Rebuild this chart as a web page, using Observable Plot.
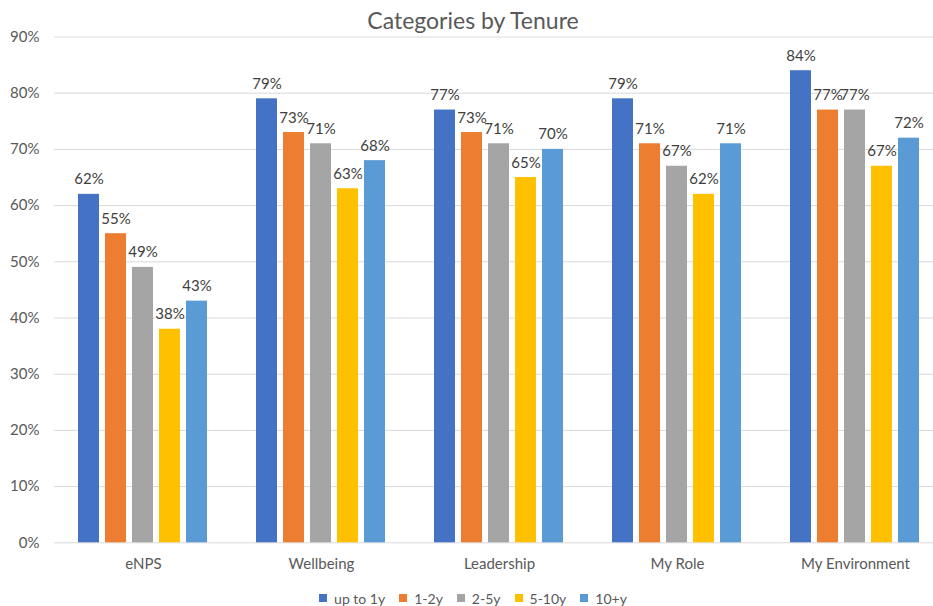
<!DOCTYPE html>
<html>
<head>
<meta charset="utf-8">
<script src="https://cdn.jsdelivr.net/npm/d3@7"></script>
<script src="https://cdn.jsdelivr.net/npm/@observablehq/plot@0.6"></script>
<style>
  body { margin: 0; background: #fff; overflow: hidden; font-family: Lato, sans-serif; }
  #title { width: 933px; height: 30px; box-sizing: border-box; padding-top: 9px; padding-left: 13px;
           font-size: 23px; line-height: 23px; color: #595959; text-align: center; white-space: nowrap; }
  #legend { width: 933px; box-sizing: border-box; padding-left: 27px; }
</style>
</head>
<body>
<div id="title">Categories by Tenure</div>
<div id="chart"></div>
<div id="legend"></div>
<script>
const categories = ["eNPS", "Wellbeing", "Leadership", "My Role", "My Environment"];
const series = ["up to 1y", "1-2y", "2-5y", "5-10y", "10+y"];
const colors = ["#4472C4", "#ED7D31", "#A5A5A5", "#FFC000", "#5B9BD5"];
const upTo1y  = [62, 79, 77, 79, 84];
const y1to2   = [55, 73, 73, 71, 77];
const y2to5   = [49, 71, 71, 67, 77];
const y5to10  = [38, 63, 65, 62, 67];
const y10plus = [43, 68, 70, 71, 72];
const yTicks = [0, 10, 20, 30, 40, 50, 60, 70, 80, 90];

const seriesValues = [upTo1y, y1to2, y2to5, y5to10, y10plus];
const data = [];
categories.forEach((c, i) => {
  series.forEach((s, j) => data.push({category: c, series: s, value: seriesValues[j][i]}));
});

const chart = Plot.plot({
  width: 933,
  height: 555,
  marginTop: 6.5,
  marginBottom: 42.7,
  marginLeft: 53,
  marginRight: 0,
  style: {fontFamily: "Lato, sans-serif", fontSize: "15px", color: "#595959", background: "white", overflow: "visible"},
  fx: {domain: categories, range: [53.2, 944.4], padding: 0, label: null, axis: "bottom", tickSize: 0, tickPadding: 16},
  x: {domain: series, axis: null, paddingInner: 0.214, paddingOuter: 0.836},
  y: {domain: [0, 90], label: null},
  color: {domain: series, range: colors},
  marks: [
    Plot.gridY(yTicks, {stroke: "#d9d9d9", strokeOpacity: 1, strokeWidth: 1}),
    Plot.axisY(yTicks, {tickSize: 0, tickPadding: 15, tickFormat: d => d + "%", label: null, fill: "#595959", fontSize: 15}),
    Plot.barY(data, {fx: "category", x: "series", y: "value", fill: "series"}),
    Plot.text(data, {fx: "category", x: "series", y: "value", text: d => d.value + "%",
      lineAnchor: "bottom", dy: -10, fill: "#404040", fontSize: 15})
  ]
});
document.getElementById("chart").appendChild(chart);

const legend = Plot.legend({
  color: {domain: series, range: colors},
  legend: "swatches",
  swatchSize: 8,
  style: {fontFamily: "Lato, sans-serif", fontSize: "14px", color: "#595959", justifyContent: "center",
          background: "transparent", minHeight: "26px"}
});
document.getElementById("legend").appendChild(legend);
</script>
</body>
</html>
